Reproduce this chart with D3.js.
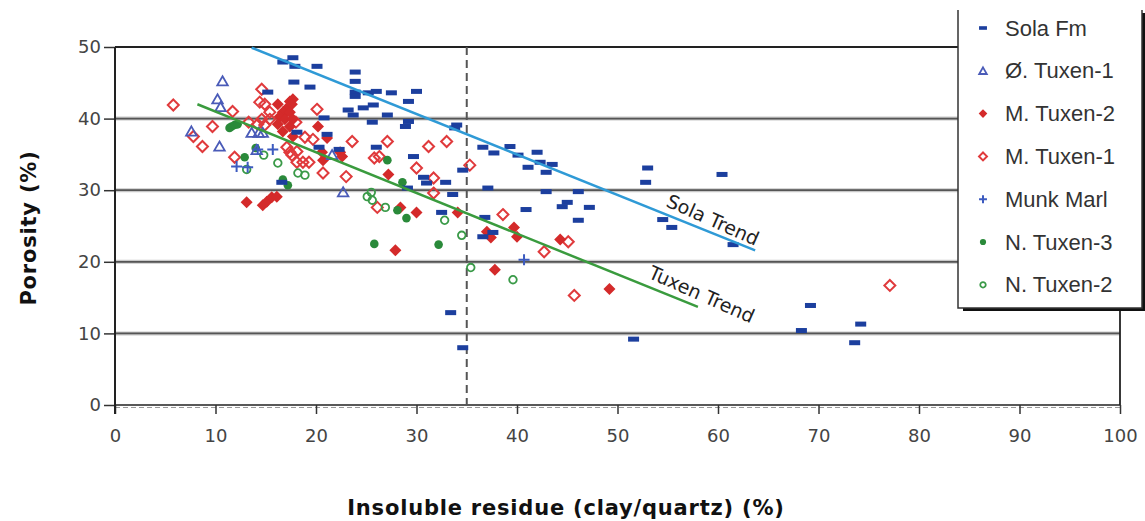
<!DOCTYPE html>
<html>
<head>
<meta charset="utf-8">
<script src="https://cdn.jsdelivr.net/npm/d3@7"></script>
<style>
  html, body { margin: 0; padding: 0; background: #fff; }
  svg { display: block; }
</style>
</head>
<body>
<svg id="chart" width="1145" height="521"></svg>
<script>
// ---------- data ----------
const xTicks = [0, 10, 20, 30, 40, 50, 60, 70, 80, 90, 100];
const yTicks = [0, 10, 20, 30, 40, 50];
const cutoffX = 35;

const solaFm = [
  [17.7,48.5],[16.7,47.9],[17.9,47.3],[20.1,47.3],[17.8,45.1],[19.4,44.4],[15.2,43.7],
  [20.8,40.1],[18.1,38.1],[21.1,37.8],[20.3,36.0],[16.6,31.1],[23.9,46.5],[23.9,45.2],
  [23.9,43.7],[23.9,43.1],[25.2,43.6],[26.0,43.8],[27.5,43.6],[30.0,43.8],[29.2,42.4],
  [23.2,41.2],[24.7,41.5],[25.7,41.9],[23.7,40.5],[27.1,40.5],[25.6,39.5],[29.2,39.6],
  [28.9,38.9],[34.0,39.1],[33.8,38.7],[26.0,36.0],[29.7,34.7],[22.3,35.7],[34.6,32.8],
  [30.7,31.8],[31.0,31.0],[32.9,31.1],[33.6,29.4],[29.1,30.3],[36.6,36.0],[37.7,35.2],
  [39.3,36.1],[40.1,34.9],[42.0,35.3],[41.1,33.2],[42.3,33.9],[43.5,33.6],[42.9,32.5],
  [37.1,30.3],[42.9,29.8],[46.1,29.8],[53.0,33.1],[52.8,31.1],[60.4,32.2],[45.0,28.3],
  [44.5,27.7],[47.2,27.6],[40.9,27.3],[46.1,25.8],[54.5,25.9],[55.4,24.8],[36.8,26.2],
  [37.6,24.1],[36.6,23.5],[61.5,22.4],[32.5,26.9],[33.4,12.9],[34.6,8.0],[51.6,9.2],
  [69.2,13.9],[68.3,10.4],[74.2,11.3],[73.6,8.7]
];
const oTuxen1 = [
  [10.7,45.2],[10.2,42.7],[10.5,41.6],[7.6,38.2],[13.6,38.0],[14.3,38.0],[14.7,38.0],
  [10.4,36.1],[14.1,35.6],[21.6,34.9],[22.7,29.7]
];
const mTuxen2 = [
  [16.2,42.0],[17.4,42.4],[17.7,42.7],[17.6,42.0],[17.2,41.6],[17.1,41.0],[16.7,40.9],
  [16.4,40.3],[17.4,40.9],[16.9,39.9],[16.2,39.2],[17.4,38.9],[16.7,38.2],[17.7,39.9],
  [17.7,37.5],[20.2,38.9],[21.1,37.3],[20.6,35.3],[20.7,34.2],[22.4,35.3],[22.6,34.7],
  [27.2,32.2],[28.4,27.6],[30.0,26.9],[27.9,21.6],[34.1,26.9],[37.0,24.2],[37.4,23.4],
  [37.8,18.9],[39.7,24.8],[40.0,23.5],[44.3,23.1],[49.2,16.2],[13.1,28.3],[14.7,27.9],
  [15.1,28.4],[15.6,29.0],[16.1,29.1]
];
const mTuxen1 = [
  [5.8,41.9],[7.8,37.5],[8.7,36.1],[9.7,38.9],[11.7,41.0],[11.9,34.6],[14.6,44.1],
  [14.4,42.3],[14.9,42.0],[15.4,40.9],[14.6,39.9],[15.4,39.9],[14.2,39.2],[13.3,39.5],
  [14.9,39.1],[18.0,39.5],[20.1,41.3],[18.9,37.4],[19.7,37.1],[17.1,36.0],[17.4,35.3],
  [18.1,35.4],[17.6,34.9],[18.1,33.9],[18.7,33.9],[19.3,33.9],[20.7,32.4],[23.6,36.8],
  [27.1,36.8],[25.8,34.5],[26.3,34.7],[23.0,31.9],[30.0,33.1],[31.2,36.1],[33.0,36.8],
  [31.7,31.7],[31.7,29.6],[35.3,33.5],[26.1,27.6],[38.6,26.6],[42.7,21.4],[45.1,22.8],
  [45.7,15.3],[77.1,16.7]
];
const munkMarl = [
  [15.7,35.7],[14.2,35.7],[12.1,33.3],[13.2,33.2],[40.7,20.3]
];
const nTuxen3 = [
  [11.4,38.7],[11.6,38.9],[11.9,39.1],[12.2,39.2],[14.0,35.9],[12.9,34.6],[16.7,31.5],
  [17.2,30.7],[27.1,34.2],[28.6,31.1],[28.1,27.2],[29.0,26.1],[25.8,22.5],[32.2,22.4]
];
const nTuxen2 = [
  [39.6,17.5],[35.4,19.2],[34.5,23.7],[32.8,25.8],[26.9,27.6],[25.5,29.7],[25.1,29.1],
  [25.6,28.6],[14.8,34.9],[16.2,33.8],[13.1,32.9],[18.2,32.4],[18.9,32.1]
];
const solaTrend = [[13.6,49.9],[63.7,21.6]];
const tuxenTrend = [[8.2,42.0],[58.0,13.7]];
const trendLabels = [
  {text: "Sola Trend", x: 59.5, y: 25.9},
  {text: "Tuxen Trend", x: 58.4, y: 15.5}
];
const legendNames = ["Sola Fm", "Ø. Tuxen-1", "M. Tuxen-2", "M. Tuxen-1", "Munk Marl", "N. Tuxen-3", "N. Tuxen-2"];

// ---------- styles ----------
const C = {
  sola: "#1c3f9e", tri: "#4a5bb8", red: "#d42a2a", redOpen: "#e03a3c",
  plus: "#3d5bc0", green: "#2a8a3a", greenOpen: "#3a9a48",
  solaLine: "#2f9ad6", tuxLine: "#3a9b3e"
};

const svg = d3.select("#chart");
const x = d3.scaleLinear().domain([0, 100]).range([115, 1120]);
const y = d3.scaleLinear().domain([0, 50]).range([405, 47]);

// gridlines
const grid = svg.append("g");
grid.selectAll("line.halo").data(yTicks.filter(v => v > 0 && v < 50)).join("line")
  .attr("x1", x(0)).attr("x2", x(100)).attr("y1", d => y(d)).attr("y2", d => y(d))
  .attr("stroke", "#c8c8c8").attr("stroke-width", 4);
grid.selectAll("line.g").data(yTicks.filter(v => v > 0 && v < 50)).join("line")
  .attr("x1", x(0)).attr("x2", x(100)).attr("y1", d => y(d)).attr("y2", d => y(d))
  .attr("stroke", "#555").attr("stroke-width", 1.8);

// frame
svg.append("line").attr("x1", x(0)).attr("x2", x(100)).attr("y1", y(50)).attr("y2", y(50))
  .attr("stroke", "#222").attr("stroke-width", 2.2);
svg.append("line").attr("x1", x(100)).attr("x2", x(100)).attr("y1", y(50)).attr("y2", y(0))
  .attr("stroke", "#222").attr("stroke-width", 1.8);
svg.append("line").attr("x1", x(0)).attr("x2", x(100)).attr("y1", y(0)).attr("y2", y(0))
  .attr("stroke", "#222").attr("stroke-width", 1.5);
svg.append("line").attr("x1", x(0)).attr("x2", x(100)).attr("y1", y(0) + 2.5).attr("y2", y(0) + 2.5)
  .attr("stroke", "#999").attr("stroke-width", 1.2).attr("stroke-dasharray", "5,3");

// cutoff dashed line
svg.append("line").attr("x1", x(cutoffX)).attr("x2", x(cutoffX)).attr("y1", y(50)).attr("y2", y(0))
  .attr("stroke", "#555").attr("stroke-width", 2).attr("stroke-dasharray", "8,5");

// axes
const xAxis = d3.axisBottom(x).tickValues(xTicks).tickSize(9).tickPadding(15).tickFormat(d3.format("d"));
const gx = svg.append("g").attr("transform", `translate(0,${y(0)})`).call(xAxis);
gx.select(".domain").remove();
gx.selectAll(".tick line").attr("stroke", "#333").attr("stroke-width", 1.5);
gx.selectAll(".tick text").attr("fill", "#444").style("font-family", "DejaVu Sans").style("font-size", "18px");

const yAxis = d3.axisLeft(y).tickValues(yTicks).tickSize(11).tickPadding(3).tickFormat(d3.format("d"));
const gy = svg.append("g").attr("transform", `translate(${x(0)},0)`).call(yAxis);
gy.select(".domain").remove();
gy.selectAll(".tick line").attr("stroke", "#333").attr("stroke-width", 1.5);
gy.selectAll(".tick text").attr("fill", "#444").style("font-family", "DejaVu Sans").style("font-size", "18px");
svg.append("line").attr("x1", x(0)).attr("x2", x(0)).attr("y1", y(50)).attr("y2", y(0) + 9)
  .attr("stroke", "#222").attr("stroke-width", 2);

// axis titles
svg.append("text").attr("x", 566).attr("y", 515).attr("text-anchor", "middle")
  .style("font-family", "DejaVu Sans").style("font-weight", "bold").style("font-size", "21px")
  .style("letter-spacing", "0.8px")
  .attr("fill", "#111").text("Insoluble residue (clay/quartz) (%)");
svg.append("text").attr("transform", `translate(36,${(y(0) + y(50)) / 2 + 2}) rotate(-90)`).attr("text-anchor", "middle")
  .style("font-family", "DejaVu Sans").style("font-weight", "bold").style("font-size", "21px")
  .style("letter-spacing", "0.8px")
  .attr("fill", "#111").text("Porosity (%)");

// ---------- marker drawers ----------
function diamondPath(h) { return `M0,${-h}L${h},0L0,${h}L${-h},0Z`; }

function drawSeries(g, key, data, scale) {
  const s = scale || 1;
  const sel = g.selectAll(null).data(data).join("g")
    .attr("transform", d => `translate(${x(d[0])},${y(d[1])})`);
  addMarker(sel, key, s);
}
function addMarker(sel, key, s) {
  if (key === "sola") {
    sel.append("rect").attr("x", -5.5 * s).attr("y", -2.5 * s).attr("width", 11 * s).attr("height", 5 * s)
      .attr("fill", C.sola);
  } else if (key === "tri") {
    sel.append("path").attr("d", d3.symbol(d3.symbolTriangle, 48 * s * s)()).attr("transform", "translate(0,1)")
      .attr("fill", "none").attr("stroke", C.tri).attr("stroke-width", 1.8);
  } else if (key === "redFill") {
    sel.append("path").attr("d", diamondPath(6 * s)).attr("fill", C.red);
  } else if (key === "redOpen") {
    sel.append("path").attr("d", diamondPath(5.5 * s)).attr("fill", "none")
      .attr("stroke", C.redOpen).attr("stroke-width", 2);
  } else if (key === "plus") {
    const h = 5.5 * s;
    sel.append("path").attr("d", `M${-h},0H${h}M0,${-h}V${h}`).attr("stroke", C.plus).attr("stroke-width", 2);
  } else if (key === "greenFill") {
    sel.append("circle").attr("r", 4.3 * s).attr("fill", C.green);
  } else if (key === "greenOpen") {
    sel.append("circle").attr("r", 3.8 * s).attr("fill", "none").attr("stroke", C.greenOpen).attr("stroke-width", 1.8);
  }
}

const pts = svg.append("g");
drawSeries(pts.append("g"), "redOpen", mTuxen1);
drawSeries(pts.append("g"), "greenOpen", nTuxen2);
drawSeries(pts.append("g"), "redFill", mTuxen2);
drawSeries(pts.append("g"), "greenFill", nTuxen3);
drawSeries(pts.append("g"), "tri", oTuxen1);
drawSeries(pts.append("g"), "plus", munkMarl);
drawSeries(pts.append("g"), "sola", solaFm);

// trend lines
const line = d3.line().x(d => x(d[0])).y(d => y(d[1]));
svg.append("path").datum(solaTrend).attr("d", line).attr("stroke", C.solaLine).attr("stroke-width", 2.5).attr("fill", "none");
svg.append("path").datum(tuxenTrend).attr("d", line).attr("stroke", C.tuxLine).attr("stroke-width", 2.5).attr("fill", "none");
svg.selectAll("text.trend").data(trendLabels).join("text").attr("class", "trend")
  .attr("transform", d => `translate(${x(d.x)},${y(d.y)}) rotate(24)`)
  .attr("text-anchor", "middle").attr("dominant-baseline", "central")
  .style("font-family", "DejaVu Sans").style("font-size", "19px").attr("fill", "#222")
  .text(d => d.text);

// ---------- legend ----------
const lg = svg.append("g");
const lx0 = 958, lx1 = 1142, ly0 = 10, ly1 = 308;
lg.append("rect").attr("x", lx0 + 5).attr("y", ly0 + 3).attr("width", lx1 - lx0).attr("height", ly1 - ly0)
  .attr("fill", "#111");
lg.append("rect").attr("x", lx0).attr("y", ly0 - 12).attr("width", lx1 - lx0).attr("height", ly1 - ly0 + 12)
  .attr("fill", "#fff");
lg.append("path").attr("d", `M${lx0},${ly0}V${ly1}H${lx1}V${ly0}`).attr("fill", "none")
  .attr("stroke", "#333").attr("stroke-width", 1.5);
const legKeys = ["sola", "tri", "redFill", "redOpen", "plus", "greenFill", "greenOpen"];
const rows = lg.selectAll("g.row").data(legendNames).join("g").attr("class", "row")
  .attr("transform", (d, i) => `translate(983,${28 + i * 42.8})`);
rows.each(function(d, i) { addMarker(d3.select(this), legKeys[i], 0.72); });
rows.append("text").attr("x", 22).attr("y", 0).attr("dominant-baseline", "central")
  .style("font-family", "Liberation Sans").style("font-size", "22px").attr("fill", "#333")
  .text(d => d);
</script>
</body>
</html>
